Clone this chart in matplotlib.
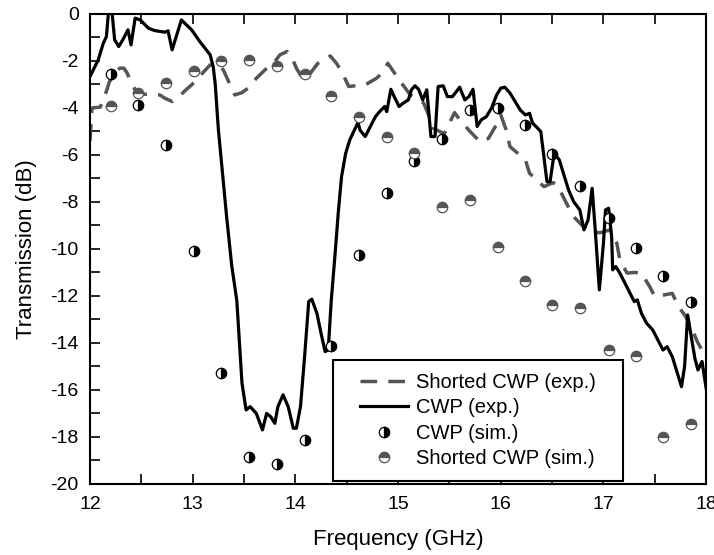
#!/usr/bin/env python3

import matplotlib
matplotlib.use('Agg')
import matplotlib.pyplot as plt
from matplotlib.ticker import MultipleLocator
from matplotlib.patches import Rectangle

# measured transmission, CWP (exp.)
cwp_exp_f = [12.00, 12.08, 12.13, 12.16, 12.185, 12.21, 12.24, 12.28, 12.32, 12.37,
             12.40, 12.44, 12.49, 12.57, 12.63, 12.73, 12.76, 12.80, 12.89, 12.99,
             13.07, 13.12, 13.17, 13.20, 13.22, 13.25, 13.30, 13.33, 13.38, 13.43,
             13.48, 13.52, 13.56, 13.62, 13.68, 13.72, 13.76, 13.80, 13.83, 13.88,
             13.93, 13.98, 14.01, 14.05, 14.09, 14.13, 14.16, 14.21, 14.25, 14.29,
             14.32, 14.35, 14.39, 14.42, 14.45, 14.49, 14.53, 14.56, 14.61, 14.63,
             14.68, 14.73, 14.78, 14.82, 14.87, 14.89, 14.93, 14.97, 15.01, 15.05,
             15.10, 15.13, 15.165, 15.20, 15.24, 15.28, 15.32, 15.36, 15.39, 15.44,
             15.48, 15.53, 15.60, 15.65, 15.69, 15.73, 15.77, 15.81, 15.86, 15.91,
             15.96, 16.00, 16.04, 16.09, 16.14, 16.19, 16.24, 16.28, 16.31, 16.35,
             16.39, 16.42, 16.45, 16.48, 16.52, 16.57, 16.62, 16.66, 16.71, 16.77,
             16.81, 16.85, 16.89, 16.92, 16.96, 17.00, 17.02, 17.05, 17.08, 17.09,
             17.12, 17.16, 17.21, 17.26, 17.30, 17.33, 17.37, 17.42, 17.48, 17.53,
             17.58, 17.62, 17.67, 17.72, 17.76, 17.79, 17.82, 17.86, 17.89, 17.92,
             17.96, 18.00]
cwp_exp_db = [-2.67, -1.96, -1.25, -0.97, 0.3, 0.3, -1.10, -1.39, -1.10, -0.68,
              -1.32, -0.18, -0.26, -0.61, -0.71, -0.78, -0.72, -1.53, -0.26, -0.68,
              -1.18, -1.46, -1.74, -2.24, -3.0, -4.9, -7.2, -8.6, -10.7, -12.2,
              -15.7, -16.85, -16.71, -17.0, -17.7, -17.0, -17.14, -17.42, -16.71, -16.21,
              -16.71, -17.63, -17.63, -16.71, -14.58, -12.24, -12.14, -12.74, -13.59, -14.37,
              -14.3, -12.17, -10.04, -8.34, -6.92, -5.93, -5.36, -5.08, -4.62, -4.95,
              -5.22, -4.79, -4.37, -4.16, -3.94, -4.16, -3.21, -3.59, -3.94, -3.80,
              -3.66, -3.23, -3.06, -3.21, -3.66, -3.23, -5.22, -5.22, -3.09, -3.06,
              -3.52, -3.52, -3.12, -3.66, -3.52, -3.21, -4.79, -4.51, -4.37, -4.01,
              -3.45, -3.16, -3.12, -3.37, -3.73, -4.09, -4.30, -4.23, -4.65, -4.82,
              -5.01, -6.07, -7.14, -7.14, -5.93, -6.21, -6.92, -7.49, -7.99, -8.34,
              -9.19, -8.77, -7.42, -9.19, -11.74, -9.76, -8.34, -8.27, -9.48, -10.89,
              -10.75, -11.03, -11.46, -11.89, -12.24, -12.17, -12.74, -13.16, -13.45, -13.87,
              -14.3, -14.16, -14.58, -15.29, -15.86, -15.0, -12.81, -13.87, -14.65, -15.15,
              -14.79, -15.93]

# measured transmission, Shorted CWP (exp.)
sh_exp_f = [12.00, 12.02, 12.10, 12.13, 12.16, 12.19, 12.24, 12.29, 12.33, 12.36,
            12.40, 12.44, 12.47, 12.55, 12.60, 12.68, 12.73, 12.80, 12.87, 12.94,
            12.99, 13.04, 13.10, 13.17, 13.20, 13.25, 13.30, 13.35, 13.41, 13.48,
            13.54, 13.62, 13.70, 13.80, 13.85, 13.92, 13.97, 14.01, 14.08, 14.15,
            14.22, 14.34, 14.40, 14.45, 14.52, 14.60, 14.68, 14.79, 14.85, 14.90,
            15.00, 15.06, 15.12, 15.21, 15.25, 15.31, 15.34, 15.45, 15.55, 15.60,
            15.70, 15.80, 15.88, 15.96, 16.00, 16.05, 16.09, 16.24, 16.28, 16.42,
            16.51, 16.55, 16.64, 16.71, 16.85, 16.97, 17.06, 17.13, 17.16, 17.23,
            17.30, 17.37, 17.45, 17.50, 17.60, 17.67, 17.73, 17.79, 17.85, 17.92,
            18.00]
sh_exp_db = [-5.4, -4.0, -3.97, -3.59, -3.30, -2.88, -2.55, -2.31, -2.31, -2.5,
             -2.9, -3.23, -3.40, -3.42, -3.40, -3.45, -3.59, -3.73, -3.5, -3.21,
             -3.02, -2.81, -2.5, -2.17, -2.17, -2.10, -2.4, -2.88, -3.45, -3.35,
             -3.16, -2.74, -2.4, -2.03, -1.74, -1.60, -1.9, -2.31, -2.81, -2.5,
             -2.10, -1.79, -2.1, -2.45, -3.09, -3.05, -3.02, -2.74, -2.5, -2.10,
             -2.74, -3.1, -3.45, -3.66, -3.8, -4.44, -4.86, -5.1, -4.2, -4.5,
             -5.0, -5.45, -5.3, -4.7, -4.3, -4.9, -5.65, -6.21, -6.78, -7.35,
             -7.18, -7.28, -8.06, -8.63, -9.26, -9.31, -9.19, -9.76, -10.47, -11.03,
             -11.0, -11.03, -11.6, -12.03, -11.95, -11.89, -12.45, -12.81, -13.3, -14.0,
             -14.6]

# simulated points
sim_f = [12.20, 12.47, 12.74, 13.01, 13.28, 13.55, 13.82, 14.09, 14.35, 14.62, 14.89,
         15.16, 15.43, 15.70, 15.97, 16.24, 16.50, 16.77, 17.05, 17.32, 17.58, 17.85]
cwp_sim_db = [-2.55, -3.87, -5.6, -10.1, -15.3, -18.87, -19.15, -18.15, -14.15, -10.25, -7.6,
              -6.26, -5.32, -4.11, -3.99, -4.74, -5.97, -7.32, -8.67, -9.97, -11.14, -12.24]
sh_sim_db = [-3.91, -3.38, -2.92, -2.45, -2.00, -1.96, -2.20, -2.55, -3.48, -4.40, -5.23,
             -5.92, -8.23, -7.94, -9.90, -11.36, -12.40, -12.50, -14.30, -14.55, -17.99, -17.45]

plt.rcParams['font.family'] = ['Liberation Sans', 'DejaVu Sans']
plt.rcParams['axes.unicode_minus'] = False

grey = '#555555'

fig = plt.figure(figsize=(7.14, 5.55), dpi=100)
ax = fig.add_axes([0.126, 0.128, 0.863, 0.847])

ax.plot(sh_exp_f, sh_exp_db, color=grey, lw=2.5, dashes=(4.8, 3.2), label='Shorted CWP (exp.)')
ax.plot(cwp_exp_f, cwp_exp_db, color='black', lw=2.3, label='CWP (exp.)')
ax.plot(sim_f, cwp_sim_db, ls='none', marker='o', ms=7.5, fillstyle='right',
        markerfacecolor='black', markerfacecoloralt='white', markeredgecolor='black',
        markeredgewidth=0.9, label='CWP (sim.)')
ax.plot(sim_f, sh_sim_db, ls='none', marker='o', ms=7.5, fillstyle='top',
        markerfacecolor=grey, markerfacecoloralt='white', markeredgecolor=grey,
        markeredgewidth=0.9, label='Shorted CWP (sim.)')

ax.set_xlim(12, 18)
ax.set_ylim(-20, 0)
ax.xaxis.set_major_locator(MultipleLocator(1))
ax.xaxis.set_minor_locator(MultipleLocator(0.5))
ax.yaxis.set_major_locator(MultipleLocator(2))
ax.yaxis.set_minor_locator(MultipleLocator(1))
ax.tick_params(which='both', direction='in', top=True, right=False,
               length=7, width=1.2, labelsize=14)
ax.tick_params(axis='x', pad=9)
ax.tick_params(axis='y', pad=8)
for s in ax.spines.values():
    s.set_linewidth(1.5)

ax.set_xlabel('Frequency (GHz)', fontsize=16, labelpad=11)
ax.set_ylabel('Transmission (dB)', fontsize=16, labelpad=10)

# legend box drawn separately so its side padding can be wider than its top/bottom
ax.add_patch(Rectangle((0.3945, 0.006), 0.471, 0.257, transform=ax.transAxes,
                       facecolor='white', edgecolor='black', lw=1.5, zorder=4))
leg = ax.legend(loc='center', bbox_to_anchor=(0.630, 0.135), fontsize=14.5,
                frameon=False, labelspacing=0.31, handlelength=2.4, handletextpad=0.4,
                borderpad=0, borderaxespad=0)
leg.set_zorder(5)

plt.savefig('out.png', dpi=100)
